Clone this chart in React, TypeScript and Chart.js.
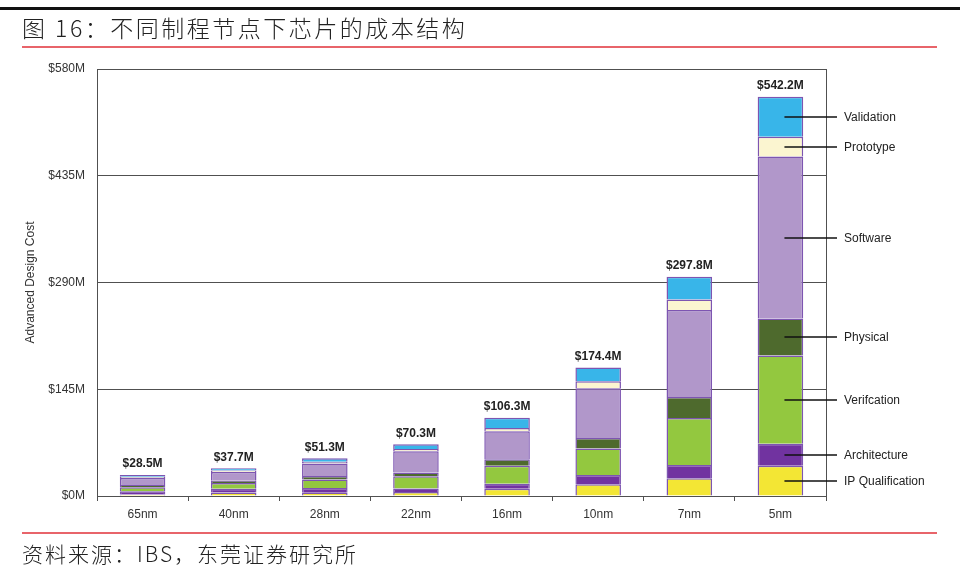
import React, { useEffect, useRef } from 'react';
import { Chart, registerables } from 'chart.js';

Chart.register(...registerables);

// ---- data ----
const categories = ['65nm', '40nm', '28nm', '22nm', '16nm', '10nm', '7nm', '5nm'];
const totals = [28.5, 37.7, 51.3, 70.3, 106.3, 174.4, 297.8, 542.2];

const ipQualification = [2, 4.7, 4.5, 5.3, 10, 15.9, 24, 41];
const architecture = [4.5, 5, 6.5, 5, 6.5, 12.5, 18, 30];
const verification = [5.5, 8, 11.5, 16.5, 24.5, 36, 64, 120];
const physical = [3, 3, 4.5, 5, 9, 14.5, 28.5, 50];
const software = [9.5, 12, 17, 29, 38, 67.5, 118, 220];
const prototype = [1.5, 2, 2.5, 3, 4.5, 9.5, 14.3, 27];
const validation = [2.5, 3, 4.8, 6.5, 13.8, 18.5, 31, 54.2];

const seriesNames = ['IP Qualification', 'Architecture', 'Verifcation', 'Physical', 'Software', 'Prototype', 'Validation'];
const seriesValues = [ipQualification, architecture, verification, physical, software, prototype, validation];
const seriesColors = ['#f3e634', '#7133a0', '#93c83f', '#4e6a2d', '#b197ca', '#fbf5d0', '#38b5e9'];

const yTickValues = [0, 145, 290, 435, 580];

const axisTitle = 'Advanced Design Cost';
const titleText = '图 16：不同制程节点下芯片的成本结构';
const sourceText = '资料来源：IBS，东莞证券研究所';

const LATIN = "'Liberation Sans', Arial, sans-serif";
const CJK = "'Noto Sans CJK SC', 'Noto Sans', sans-serif";

const overlayPlugin = {
  id: 'overlay',
  afterDatasetsDraw(chart: any) {
    const ctx = chart.ctx;
    const { top, bottom, right } = chart.chartArea;
    const xScale = chart.scales.x;
    const yScale = chart.scales.y;
    ctx.save();
    // right frame line
    ctx.strokeStyle = '#505050';
    ctx.lineWidth = 1;
    ctx.beginPath();
    ctx.moveTo(Math.round(right) + 0.5, top);
    ctx.lineTo(Math.round(right) + 0.5, bottom);
    ctx.stroke();

    // totals above bars
    ctx.fillStyle = '#222';
    ctx.font = `bold 12px ${LATIN}`;
    ctx.textAlign = 'center';
    ctx.textBaseline = 'middle';
    totals.forEach((t, i) => {
      const x = xScale.getPixelForValue(i);
      const y = yScale.getPixelForValue(t);
      ctx.fillText(`$${t.toFixed(1)}M`, x, y - 11);
    });

    // annotations for last bar
    const last = categories.length - 1;
    const xc = xScale.getPixelForValue(last);
    let cum = 0;
    ctx.font = `12px ${LATIN}`;
    ctx.textAlign = 'left';
    ctx.strokeStyle = '#111';
    ctx.lineWidth = 1.5;
    seriesValues.forEach((vals, k) => {
      const v = vals[last];
      const yMid = Math.round(yScale.getPixelForValue(cum + v / 2));
      cum += v;
      ctx.beginPath();
      ctx.moveTo(xc + 4, yMid);
      ctx.lineTo(right + 11, yMid);
      ctx.stroke();
      ctx.fillStyle = '#222';
      ctx.fillText(seriesNames[k], right + 18, yMid + 1);
    });
    ctx.restore();
  },
};

function ChartCanvas() {
  const ref = useRef<HTMLCanvasElement | null>(null);
  useEffect(() => {
    if (!ref.current) return;
    const chart = new Chart(ref.current, {
      type: 'bar',
      data: {
        labels: categories,
        datasets: seriesValues.map((vals, k) => ({
          label: seriesNames[k],
          data: vals,
          backgroundColor: seriesColors[k],
          borderColor: '#7d55b1',
          borderWidth: 1.5,
          barPercentage: 0.5,
          categoryPercentage: 1.0,
        })),
      },
      options: {
        responsive: false,
        animation: false,
        devicePixelRatio: 1,
        layout: { padding: { top: 69, right: 134, left: 19, bottom: 0 } },
        plugins: {
          legend: { display: false },
          tooltip: { enabled: false },
          title: { display: false },
        },
        scales: {
          x: {
            stacked: true,
            offset: true,
            grid: {
              display: true,
              drawOnChartArea: false,
              drawTicks: true,
              tickLength: 5,
              color: '#505050',
            },
            border: { display: true, color: '#505050', width: 1 },
            ticks: {
              color: '#333',
              font: { family: LATIN, size: 12 },
              padding: 6,
              maxRotation: 0,
              autoSkip: false,
            },
            afterFit: (scale: any) => {
              scale.height = 91;
            },
          },
          y: {
            stacked: true,
            min: 0,
            max: 580,
            afterBuildTicks: (scale: any) => {
              scale.ticks = yTickValues.map((v) => ({ value: v }));
            },
            grid: {
              color: '#505050',
              lineWidth: 1,
              drawTicks: false,
            },
            border: { display: true, color: '#505050', width: 1 },
            ticks: {
              color: '#333',
              font: { family: LATIN, size: 12 },
              padding: 12,
              callback: (v: any) => `$${v}M`,
            },
            title: {
              display: true,
              text: axisTitle,
              color: '#333',
              font: { family: LATIN, size: 12 },
              padding: { top: 4, bottom: 4 },
            },
            afterFit: (scale: any) => {
              scale.width = 78;
            },
          },
        },
      },
      plugins: [overlayPlugin],
    });
    return () => chart.destroy();
  }, []);
  return (
    <canvas
      ref={ref}
      width={960}
      height={587}
      style={{ position: 'absolute', left: 0, top: 0, width: 960, height: 587 }}
    />
  );
}

export default function App() {
  return (
    <div
      style={{
        position: 'absolute',
        left: 0,
        top: 0,
        width: 960,
        height: 587,
        background: '#fff',
        overflow: 'hidden',
      }}
    >
      <ChartCanvas />
      <div style={{ position: 'absolute', left: 0, top: 7, width: 960, height: 3, background: '#111' }} />
      <div
        style={{
          position: 'absolute',
          left: 22,
          top: 16,
          fontFamily: CJK,
          fontSize: 23,
          lineHeight: '23px',
          letterSpacing: 2.5,
          fontWeight: 300,
          color: '#222',
          whiteSpace: 'nowrap',
        }}
      >
        {titleText}
      </div>
      <div style={{ position: 'absolute', left: 22, top: 46, width: 915, height: 2, background: '#e8646a' }} />
      <div style={{ position: 'absolute', left: 22, top: 532, width: 915, height: 2, background: '#e8646a' }} />
      <div
        style={{
          position: 'absolute',
          left: 22,
          top: 542,
          fontFamily: CJK,
          fontSize: 21,
          lineHeight: '22px',
          letterSpacing: 2,
          fontWeight: 300,
          color: '#222',
          whiteSpace: 'nowrap',
        }}
      >
        {sourceText}
      </div>
    </div>
  );
}
